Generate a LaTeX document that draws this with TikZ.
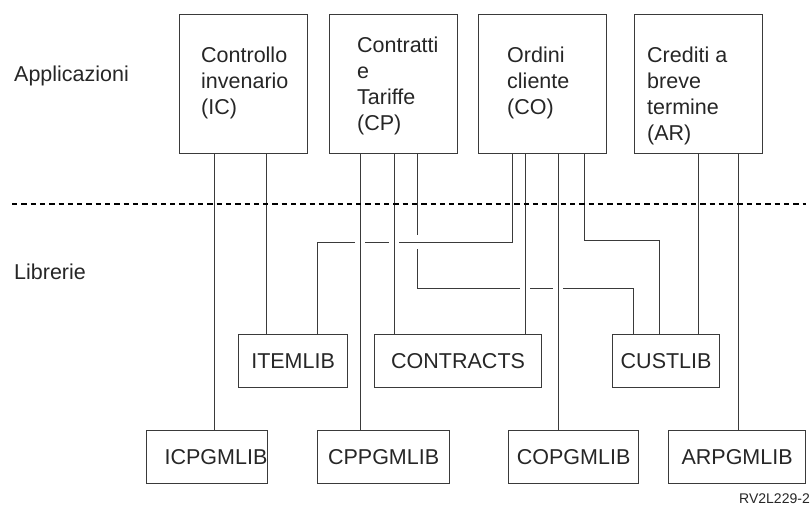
\documentclass[tikz,border=0pt]{standalone}
\usepackage{fontspec}
\setmainfont{Liberation Sans}
\usetikzlibrary{backgrounds}
\definecolor{mline}{HTML}{3A3A3A}
\definecolor{mtext}{HTML}{262626}
\tikzstyle{appbox} = [rectangle, draw=mline, line width=1.2pt, minimum width=128pt, minimum height=139pt, anchor=north west, inner sep=0pt]
\tikzstyle{apptext} = [anchor=north west, inner sep=0pt, align=left, text=mtext, font=\fontsize{21.5}{26}\selectfont]
\tikzstyle{libbox} = [rectangle, draw=mline, line width=1.2pt, minimum height=53pt, anchor=north west, inner sep=0pt, text=mtext, font=\fontsize{21.5}{26}\selectfont]
\tikzstyle{side} = [anchor=base west, inner sep=0pt, text=mtext, font=\fontsize{21.5}{26}\selectfont]
\tikzstyle{link} = [draw=mline, line width=1pt]
\tikzstyle{over} = [preaction={draw=white, line width=10pt}]
\tikzstyle{separator} = [black, line width=1.8pt, dash pattern=on 5.3pt off 4pt]

\begin{document}
\begin{tikzpicture}[x=1pt, y=-1pt]
\useasboundingbox (0,0) rectangle (812,508);
% applicazioni
\node (ic) [appbox] at (179,14) {};
\node (cp) [appbox] at (329,14) {};
\node (co) [appbox] at (478,14) {};
\node (ar) [appbox] at (634,14) {};
\node (ictext) [apptext] at (201,47) {Controllo\\invenario\\(IC)};
\node (cptext) [apptext] at (357,37) {Contratti\\e\\Tariffe\\(CP)};
\node (cotext) [apptext] at (507,47) {Ordini\\cliente\\(CO)};
\node (artext) [apptext] at (647,47) {Crediti a\\breve\\termine\\(AR)};
% librerie
\node (itemlib) [libbox, minimum width=109pt] at (238,334) {ITEMLIB};
\node (contracts) [libbox, minimum width=167pt] at (374,334) {CONTRACTS};
\node (custlib) [libbox, minimum width=107pt] at (612,334) {CUSTLIB};
\node (icpgm) [libbox, minimum width=121pt] at (146,430) {\makebox[85pt][l]{ICPGMLIB}};
\node (cppgm) [libbox, minimum width=132pt] at (317,430) {CPPGMLIB};
\node (copgm) [libbox, minimum width=130pt] at (508,430) {COPGMLIB};
\node (arpgm) [libbox, minimum width=137pt] at (668,430) {ARPGMLIB};
\node (apps) [side] at (14,82) {Applicazioni};
\node (libs) [side] at (14,279) {Librerie};
\node (figid) [anchor=base east, inner sep=0pt, text=mtext, font=\fontsize{14}{16}\selectfont] at (810,503) {RV2L229-2};
% collegamenti
\begin{pgfonlayer}{background}
\draw [link] (cp.south -| 417,0) -- (417,288) -| (custlib.north -| 633,0);
\draw [link, preaction={draw=white, line width=14pt}] (co.south -| 512,0) -- (512,242) -| (itemlib.north -| 317,0);
\draw [link] (ic.south -| 214,0) -- (icpgm.north -| 214,0);
\draw [link] (ic.south -| 266,0) -- (itemlib.north -| 266,0);
\draw [link, over] (cp.south -| 360,0) -- (cppgm.north -| 360,0);
\draw [link, over] (cp.south -| 394,0) -- (contracts.north -| 394,0);
\draw [link, over] (co.south -| 525,0) -- (contracts.north -| 525,0);
\draw [link, over] (co.south -| 558,0) -- (copgm.north -| 558,0);
\draw [link] (co.south -| 584,0) -- (584,240) -| (custlib.north -| 659,0);
\draw [link] (ar.south -| 698,0) -- (custlib.north -| 698,0);
\draw [link] (ar.south -| 738,0) -- (arpgm.north -| 738,0);
\end{pgfonlayer}
% separatore
\coordinate (sepl) at (12,204);
\coordinate (sepr) at (806,204);
\draw [separator] (sepl) -- (sepr);
\end{tikzpicture}
\end{document}
